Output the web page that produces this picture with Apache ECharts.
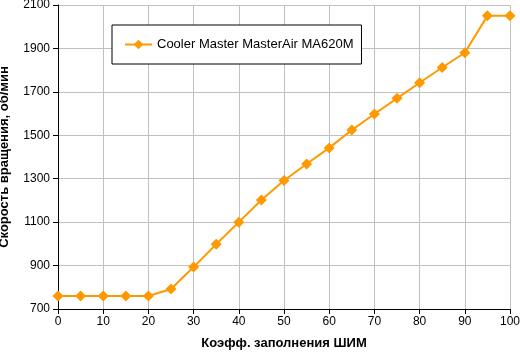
<!DOCTYPE html>
<html>
<head>
<meta charset="utf-8">
<script src="https://cdn.jsdelivr.net/npm/echarts@6/dist/echarts.min.js"></script>
<style>
html,body{margin:0;padding:0;background:#fff;}
#c{width:520px;height:355px;}
</style>
</head>
<body>
<div id="c"></div>
<script>
const pwm = [0,5,10,15,20,25,30,35,40,45,50,55,60,65,70,75,80,85,90,95,100];
const rpm = [760,760,760,760,760,792,893,998,1100,1202,1292,1368,1442,1524,1598,1670,1742,1812,1880,2050,2050];
const seriesName = 'Cooler Master MasterAir MA620M';
const xTitle = 'Коэфф. заполнения ШИМ';
const yTitle = 'Скорость вращения, об/мин';

const chart = echarts.init(document.getElementById('c'), null, {renderer:'canvas'});
const font = 'Liberation Sans, Arial, sans-serif';
chart.setOption({
  animation:false,
  backgroundColor:'#fff',
  textStyle:{fontFamily:font},
  grid:{left:58, right:10, top:5, bottom:46, containLabel:false, outerBoundsMode:'none'},
  legend:{
    show:true,
    left:112, top:25,
    orient:'horizontal',
    padding:[13,8,13,12],
    borderColor:'#000', borderWidth:1, backgroundColor:'#fff',
    itemWidth:27, itemHeight:12, itemGap:5,
    textStyle:{fontSize:13, color:'#000', fontFamily:font},
    data:[seriesName]
  },
  xAxis:{
    type:'value', min:0, max:100, interval:10,
    name:xTitle, nameLocation:'middle', nameGap:28,
    nameTextStyle:{fontSize:13, fontWeight:'bold', color:'#000', fontFamily:font},
    axisLine:{show:true, lineStyle:{color:'#000', width:1}},
    axisTick:{show:true, inside:false, length:5, lineStyle:{color:'#000'}},
    axisLabel:{fontSize:12, color:'#000', margin:7, fontFamily:font, formatter:v=>String(v)},
    splitLine:{show:true, lineStyle:{color:'#c0c0c0', width:1}}
  },
  yAxis:{
    type:'value', min:700, max:2100, interval:200,
    name:yTitle, nameLocation:'middle', nameGap:47, nameRotate:90,
    nameTextStyle:{fontSize:13, fontWeight:'bold', color:'#000', fontFamily:font},
    axisLine:{show:true, lineStyle:{color:'#000', width:1}},
    axisTick:{show:true, inside:false, length:5, lineStyle:{color:'#000'}},
    axisLabel:{fontSize:12, color:'#000', margin:8, fontFamily:font, formatter:v=>String(v)},
    splitLine:{show:true, lineStyle:{color:'#c0c0c0', width:1}}
  },
  series:[{
    name:seriesName,
    type:'line',
    data:pwm.map((x,i)=>[x,rpm[i]]),
    symbol:'diamond', symbolSize:11,
    showAllSymbol:true,
    lineStyle:{color:'#ff9900', width:2},
    itemStyle:{color:'#ff9900'},
    z:3
  }]
});
</script>
</body>
</html>
